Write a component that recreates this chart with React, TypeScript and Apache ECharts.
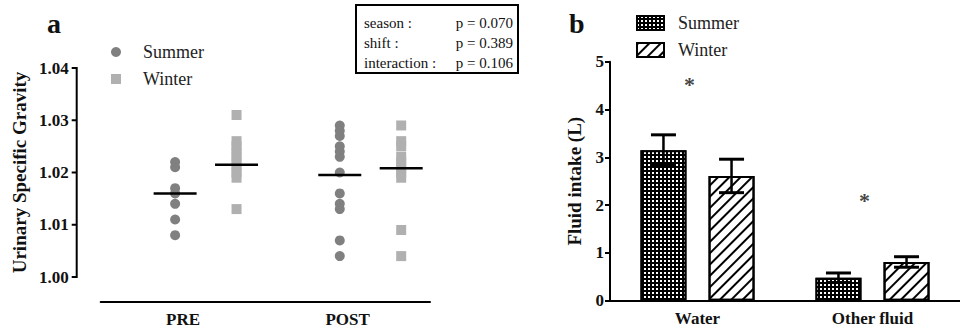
import React, { useEffect, useRef } from 'react';
import * as echarts from 'echarts';

// ---------- Panel a data ----------
const groupsA = ['PRE', 'POST'];
const summerPre = [1.022, 1.021, 1.017, 1.016, 1.014, 1.011, 1.008];
const summerPost = [1.029, 1.028, 1.027, 1.025, 1.024, 1.023, 1.020, 1.016, 1.014, 1.013, 1.007, 1.004];
const winterPre = [1.031, 1.026, 1.025, 1.024, 1.023, 1.022, 1.021, 1.020, 1.019, 1.013];
const winterPost = [1.029, 1.026, 1.025, 1.023, 1.022, 1.021, 1.020, 1.019, 1.009, 1.004];
const summerMeans = [1.016, 1.0195];
const winterMeans = [1.0215, 1.0208];
const usgTicks = [1.0, 1.01, 1.02, 1.03, 1.04];

const statLabels = ['season :', 'shift :', 'interaction :'];
const statPValues = ['p = 0.070', 'p = 0.389', 'p = 0.106'];

// ---------- Panel b data ----------
const categoriesB = ['Water', 'Other fluid'];
const summerIntake = [3.15, 0.48];
const summerSem = [0.32, 0.1];
const winterIntake = [2.61, 0.81];
const winterSem = [0.35, 0.11];
const starHeights = [4.62, 2.2];

const FONT = '"Liberation Serif", "Times New Roman", serif';
const S_OFF = -0.048;
const W_OFF = 0.325;
const BAR_W = 46;
const BAR_GAP = 0.48;
const Y_AXIS_OFFSET = 24;

export default function App() {
  const ref = useRef<HTMLDivElement>(null);

  useEffect(() => {
    if (!ref.current) return;
    const chart = echarts.init(ref.current, undefined, { renderer: 'svg' });

    const usgMin = usgTicks[0];
    const usgMax = usgTicks[usgTicks.length - 1];
    const usgStep = usgTicks[1] - usgTicks[0];

    const barOffset = (BAR_W * (1 + BAR_GAP)) / 2;
    const errRender = (sign: number) => (params: any, api: any) => {
      const ci = api.value(0);
      const v = api.value(1);
      const e = api.value(2);
      const top = api.coord([ci, v + e]);
      const bot = api.coord([ci, v - e]);
      const x = top[0] + sign * barOffset;
      const cap = 12.5;
      return {
        type: 'group',
        children: [
          { type: 'line', shape: { x1: x, y1: top[1], x2: x, y2: bot[1] }, style: { stroke: '#000', lineWidth: 2.5 } },
          { type: 'line', shape: { x1: x - cap, y1: top[1], x2: x + cap, y2: top[1] }, style: { stroke: '#000', lineWidth: 3 } },
          { type: 'line', shape: { x1: x - cap, y1: bot[1], x2: x + cap, y2: bot[1] }, style: { stroke: '#000', lineWidth: 3 } },
        ],
      };
    };

    // Axis line + ticks of panel a's offset y axis, placed through the y scale
    const usgAxisRender = (params: any, api: any) => {
      const v = api.value(1);
      const p = api.coord([0, v]);
      const x = p[0] - Y_AXIS_OFFSET;
      const children: any[] = [
        { type: 'line', shape: { x1: x - 5, y1: p[1], x2: x, y2: p[1] }, style: { stroke: '#000', lineWidth: 2 } },
      ];
      if (params.dataIndex === 0) {
        const a = api.coord([0, usgMin]);
        const b = api.coord([0, usgMax]);
        children.push({
          type: 'line',
          shape: { x1: x, y1: a[1] + 1, x2: x, y2: b[1] - 1 },
          style: { stroke: '#000', lineWidth: 2 },
        });
      }
      return { type: 'group', children };
    };

    const boldLabel = { fontFamily: FONT, fontWeight: 'bold' as const, color: '#111' };

    chart.setOption({
      animation: false,
      backgroundColor: '#fff',
      grid: [
        { left: 100.7, right: 530, top: 68, bottom: 54 },
        { left: 610, right: -8, top: 61.7, bottom: 30.3 },
        { left: 100.7 - Y_AXIS_OFFSET, width: 1, top: 68, bottom: 54 },
      ],
      legend: [
        {
          data: [
            { name: 'Summer', icon: 'circle' },
            { name: 'Winter', icon: 'rect' },
          ],
          orient: 'vertical',
          left: 106,
          top: 37,
          itemWidth: 10,
          itemHeight: 10,
          itemGap: 7,
          selectedMode: false,
          textStyle: { fontFamily: FONT, fontSize: 18, color: '#222', padding: [0, 0, 0, 17], lineHeight: 20 },
        },
        {
          data: [{ name: 'bSummer' }, { name: 'bWinter' }],
          formatter: (n: string) => n.slice(1),
          orient: 'vertical',
          icon: 'rect',
          left: 631,
          top: 8,
          itemWidth: 27,
          itemHeight: 14,
          itemGap: 7,
          selectedMode: false,
          textStyle: { fontFamily: FONT, fontSize: 18, color: '#222', padding: [0, 0, 0, 9], lineHeight: 20 },
        },
      ],
      xAxis: [
        {
          type: 'category',
          gridIndex: 0,
          data: groupsA,
          offset: 25,
          axisLine: { onZero: false, lineStyle: { color: '#000', width: 2 } },
          axisTick: { alignWithLabel: true, length: 6, lineStyle: { width: 2, color: '#000' } },
          axisLabel: { ...boldLabel, fontSize: 17, margin: 9 },
        },
        { type: 'value', gridIndex: 0, min: 0, max: 2, show: false },
        {
          type: 'category',
          gridIndex: 1,
          data: categoriesB,
          axisLine: { onZero: false, lineStyle: { color: '#000', width: 2 } },
          axisTick: { alignWithLabel: true, length: 6, lineStyle: { width: 2, color: '#000' } },
          axisLabel: { ...boldLabel, fontSize: 17, margin: 9 },
        },
        {
          type: 'category',
          gridIndex: 2,
          data: [''],
          axisLine: { show: false },
          axisTick: { show: false },
          axisLabel: { show: false },
        },
      ],
      yAxis: [
        {
          type: 'value',
          gridIndex: 0,
          min: usgMin,
          max: usgMax,
          interval: usgStep,
          show: false,
        },
        {
          type: 'value',
          gridIndex: 1,
          min: 0,
          max: 5,
          interval: 1,
          name: 'Fluid intake (L)',
          nameLocation: 'middle',
          nameGap: 26,
          nameTextStyle: { ...boldLabel, fontSize: 19 },
          axisLine: { show: true, onZero: false, lineStyle: { color: '#000', width: 2 } },
          axisTick: { show: true, length: 5, lineStyle: { width: 2, color: '#000' } },
          axisLabel: { ...boldLabel, fontSize: 17, margin: 6 },
          splitLine: { show: false },
        },
        {
          type: 'value',
          gridIndex: 2,
          min: usgMin,
          max: usgMax,
          interval: usgStep,
          name: 'Urinary Specific Gravity',
          nameLocation: 'middle',
          nameGap: 48,
          nameTextStyle: { ...boldLabel, fontSize: 19 },
          axisLine: { show: false },
          axisTick: { show: false },
          axisLabel: { ...boldLabel, fontSize: 17, margin: 8, formatter: (v: number) => v.toFixed(2) },
          splitLine: { show: false },
        },
      ],
      series: [
        {
          name: 'usgAxis',
          type: 'custom',
          xAxisIndex: 1,
          yAxisIndex: 0,
          clip: false,
          silent: true,
          renderItem: usgAxisRender,
          encode: { x: 0, y: 1 },
          data: usgTicks.map((v) => [0, v]),
        },
        {
          name: 'Summer',
          type: 'scatter',
          xAxisIndex: 1,
          yAxisIndex: 0,
          symbol: 'circle',
          symbolSize: 10,
          itemStyle: { color: '#808080', opacity: 1 },
          data: summerPre.map((v) => [0.5 + S_OFF, v]).concat(summerPost.map((v) => [1.5 + S_OFF, v])),
        },
        {
          name: 'Winter',
          type: 'scatter',
          xAxisIndex: 1,
          yAxisIndex: 0,
          symbol: 'rect',
          symbolSize: 10,
          itemStyle: { color: '#b0b0b0', opacity: 1 },
          data: winterPre.map((v) => [0.5 + W_OFF, v]).concat(winterPost.map((v) => [1.5 + W_OFF, v])),
        },
        {
          name: 'mean',
          type: 'scatter',
          xAxisIndex: 1,
          yAxisIndex: 0,
          symbol: 'rect',
          symbolSize: [43, 2.5],
          z: 5,
          itemStyle: { color: '#000', opacity: 1 },
          data: [
            ...summerMeans.map((v, i) => [i + 0.5 + S_OFF, v]),
            ...winterMeans.map((v, i) => [i + 0.5 + W_OFF, v]),
          ],
        },
        {
          name: 'bSummer',
          type: 'bar',
          xAxisIndex: 2,
          yAxisIndex: 1,
          barWidth: BAR_W,
          barGap: BAR_GAP * 100 + '%',
          data: summerIntake,
          itemStyle: {
            color: '#000',
            borderColor: '#000',
            borderWidth: 2,
            decal: { symbol: 'rect', symbolSize: 1, dashArrayX: [2, 1.6], dashArrayY: [2, 1.6], color: '#fff', rotation: 0 },
          },
        },
        {
          name: 'bWinter',
          type: 'bar',
          xAxisIndex: 2,
          yAxisIndex: 1,
          barWidth: BAR_W,
          barGap: BAR_GAP * 100 + '%',
          data: winterIntake,
          itemStyle: {
            color: '#fff',
            borderColor: '#000',
            borderWidth: 2,
            decal: { symbol: 'rect', symbolSize: 1, dashArrayX: [1, 0], dashArrayY: [1.8, 5.5], color: '#000', rotation: -Math.PI / 4 },
          },
        },
        {
          name: 'errSummer',
          type: 'custom',
          xAxisIndex: 2,
          yAxisIndex: 1,
          z: 10,
          renderItem: errRender(-1),
          encode: { x: 0, y: 1 },
          data: summerIntake.map((v, i) => [i, v, summerSem[i]]),
        },
        {
          name: 'errWinter',
          type: 'custom',
          xAxisIndex: 2,
          yAxisIndex: 1,
          z: 10,
          renderItem: errRender(1),
          encode: { x: 0, y: 1 },
          data: winterIntake.map((v, i) => [i, v, winterSem[i]]),
        },
        {
          name: 'stars',
          type: 'scatter',
          xAxisIndex: 2,
          yAxisIndex: 1,
          symbolSize: 1,
          itemStyle: { color: 'transparent' },
          label: {
            show: true,
            formatter: '*',
            position: 'inside',
            offset: [-8, 5],
            fontFamily: FONT,
            fontWeight: 'bold',
            fontSize: 22,
            color: '#111',
          },
          data: starHeights.map((h, i) => [i, h]),
        },
      ],
      graphic: [
        {
          type: 'text',
          left: 47,
          top: 9,
          style: { text: 'a', font: `bold 28px ${FONT}`, fill: '#111' },
        },
        {
          type: 'text',
          left: 569,
          top: 9,
          style: { text: 'b', font: `bold 28px ${FONT}`, fill: '#111' },
        },
        {
          type: 'group',
          left: 355,
          top: 4,
          children: [
            {
              type: 'rect',
              shape: { x: 0, y: 0, width: 162, height: 68 },
              style: { fill: '#fff', stroke: '#000', lineWidth: 2 },
            },
            ...statLabels.map((t, i) => ({
              type: 'text',
              x: 8,
              y: 18 + i * 20,
              style: { text: t, font: `15px ${FONT}`, fill: '#111', textVerticalAlign: 'middle' },
            })),
            ...statPValues.map((t, i) => ({
              type: 'text',
              x: 157,
              y: 18 + i * 20,
              style: { text: t, font: `15px ${FONT}`, fill: '#111', textAlign: 'right', textVerticalAlign: 'middle' },
            })),
          ],
        },
      ],
    });

    return () => chart.dispose();
  }, []);

  return (
    <div
      ref={ref}
      style={{ position: 'fixed', left: 0, top: 0, width: 960, height: 331, background: '#fff' }}
    />
  );
}
